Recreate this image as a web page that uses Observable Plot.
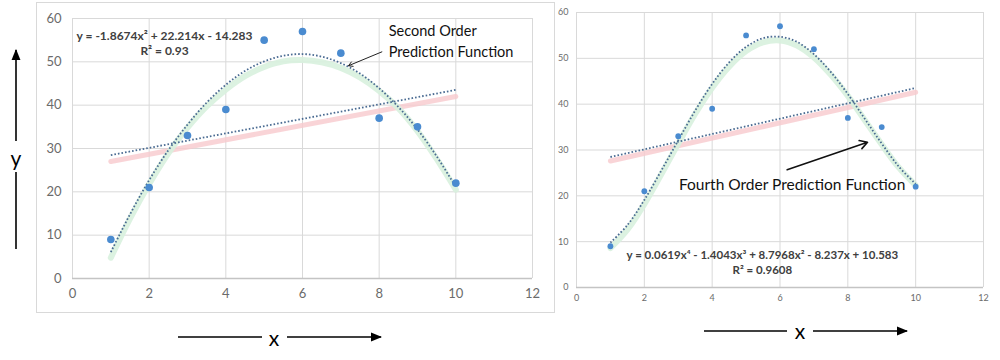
<!DOCTYPE html>
<html>
<head>
<meta charset="utf-8">
<script src="https://cdn.jsdelivr.net/npm/d3@7"></script>
<script src="https://cdn.jsdelivr.net/npm/@observablehq/plot@0.6"></script>
<style>
  body { margin: 0; background: #fff; font-family: Lato, "Open Sans", sans-serif; }
  #wrap { position: relative; width: 1000px; height: 360px; overflow: hidden; }
  #wrap > svg { position: absolute; }
  .lbl { position: absolute; font-family: Lato, sans-serif; font-size: 21px; color: #000; line-height: 1; }
</style>
</head>
<body>
<div id="wrap"></div>
<script>
// ---- data ----
const xValues = [1, 2, 3, 4, 5, 6, 7, 8, 9, 10];
const yValues = [9, 21, 33, 39, 55, 57, 52, 37, 35, 22];

const curveX = [1, 1.5, 2, 2.5, 3, 3.5, 4, 4.5, 5, 5.5, 6, 6.5, 7, 7.5, 8, 8.5, 9, 9.5, 10];
const secondOrder = [6.1, 14.8, 22.7, 29.6, 35.5, 40.6, 44.7, 47.9, 50.1, 51.4, 51.8, 51.2, 49.7, 47.3, 43.9, 39.6, 34.4, 28.2, 21.1];
const secondHighlight = [4.8, 13.8, 21.8, 28.9, 34.8, 39.7, 43.6, 46.7, 48.8, 50.1, 50.4, 49.9, 48.6, 46.4, 43.3, 39.3, 34.0, 27.6, 20.5];
const fourthOrder = [9.8, 13.6, 19.1, 25.5, 32.1, 38.6, 44.4, 49.1, 52.5, 54.4, 54.7, 53.6, 50.9, 47.0, 42.2, 36.8, 31.4, 26.4, 22.6];
const fourthHighlight = [8.6, 12.6, 18.2, 24.7, 31.4, 37.9, 43.6, 48.2, 51.6, 53.5, 53.9, 52.8, 50.2, 46.4, 41.8, 36.5, 31.2, 26.2, 22.3];

// straight highlight lines
const linearHighlightX = [1, 10];
const linearHighlightLeft = [27, 42];
const linearHighlightRight = [27.6, 42.6];

const xTicks = [0, 2, 4, 6, 8, 10, 12];
const yTicks = [0, 10, 20, 30, 40, 50, 60];

const eqSecond = "y = -1.8674x² + 22.214x - 14.283";
const r2Second = "R² = 0.93";
const eqFourth = "y = 0.0619x⁴ - 1.4043x³ + 8.7968x² - 8.237x + 10.583";
const r2Fourth = "R² = 0.9608";
const noteSecond = "Second Order\nPrediction Function";
const noteFourth = "Fourth Order Prediction Function";

// ---- helpers ----
const points = xValues.map((x, i) => ({x, y: yValues[i]}));
const zipCurve = (ys) => curveX.map((x, i) => ({x, y: ys[i]}));
const zipLin = (ys) => linearHighlightX.map((x, i) => ({x, y: ys[i]}));

const FONT = "Lato, 'Open Sans', sans-serif";
const GRID = "#d9d9d9";
const DOT_LINE = "#4a6b92";
const POINT = "#4a8bd0";

function panel(o) {
  return Plot.plot({
    width: o.width, height: o.height,
    marginLeft: o.ml, marginRight: o.mr, marginTop: o.mt, marginBottom: o.mb,
    style: {fontFamily: FONT, background: "transparent", overflow: "visible"},
    x: {domain: [0, 12], ticks: xTicks},
    y: {domain: [0, 60], ticks: yTicks},
    marks: [
      Plot.gridX(xTicks, {stroke: GRID, strokeOpacity: 1}),
      Plot.gridY(yTicks, {stroke: GRID, strokeOpacity: 1}),
      Plot.ruleY([0], {stroke: "#c4c4c4", strokeWidth: 1.3}),
      Plot.axisX({ticks: xTicks, tickSize: 0, tickPadding: o.xPad, fontSize: o.tickFont, fill: "#6b6b6b", label: null}),
      Plot.axisY({ticks: yTicks, tickSize: 0, tickPadding: o.yPad, fontSize: o.tickFont, fill: "#6b6b6b", label: null}),
      Plot.line(zipLin(o.linHi), {x: "x", y: "y", stroke: "#f8c9cd", strokeWidth: 5, strokeOpacity: 0.8}),
      Plot.line(zipCurve(o.curveHi), {x: "x", y: "y", stroke: "#d8f1de", strokeWidth: 6, strokeOpacity: 0.9, curve: "catmull-rom"}),
      Plot.linearRegressionY(points, {x: "x", y: "y", stroke: DOT_LINE, strokeWidth: 1.8, strokeDasharray: "1.6,2", strokeLinecap: "butt", ci: 0}),
      Plot.line(zipCurve(o.curve), {x: "x", y: "y", stroke: DOT_LINE, strokeWidth: 1.8, strokeDasharray: "1.6,2", strokeLinecap: "butt", curve: "catmull-rom"}),
      Plot.dot(points, {x: "x", y: "y", r: o.r, fill: POINT, stroke: "none"}),
      ...o.extra
    ]
  });
}

const wrap = document.getElementById("wrap");

// left panel
const left = panel({
  width: 517, height: 309, ml: 35, mr: 22, mt: 15, mb: 34,
  xPad: 10, yPad: 11, tickFont: 13, r: 3.8,
  curve: secondOrder, curveHi: secondHighlight, linHi: linearHighlightLeft,
  extra: [
    Plot.text([eqSecond], {x: 2.4, y: 56.0, text: d => d, fontSize: 12, fontWeight: "bold", fill: "#404040"}),
    Plot.text([r2Second], {x: 2.4, y: 52.4, text: d => d, fontSize: 12, fontWeight: "bold", fill: "#404040"}),
    Plot.text([noteSecond], {x: 8.25, y: 55.2, text: d => d, textAnchor: "start", fontSize: 14.5, fill: "#111", lineHeight: 1.45}),
    Plot.arrow([{x1: 8.07, y1: 52.3, x2: 7.2, y2: 49.1}], {x1: "x1", y1: "y1", x2: "x2", y2: "y2", stroke: "#222", strokeWidth: 1, headLength: 7})
  ]
});
left.style.left = "36px";
left.style.top = "2px";
left.style.border = "1px solid #d9d9d9";
wrap.appendChild(left);

// right panel
const right = panel({
  width: 455, height: 310, ml: 31, mr: 17, mt: 12, mb: 23,
  xPad: 7, yPad: 8, tickFont: 9, r: 2.9,
  curve: fourthOrder, curveHi: fourthHighlight, linHi: linearHighlightRight,
  extra: [
    Plot.text([eqFourth], {x: 5.48, y: 7.1, text: d => d, fontSize: 11.5, fontWeight: "bold", fill: "#404040"}),
    Plot.text([r2Fourth], {x: 5.48, y: 3.8, text: d => d, fontSize: 11.5, fontWeight: "bold", fill: "#404040"}),
    Plot.text([noteFourth], {x: 3.02, y: 22.4, text: d => d, textAnchor: "start", fontSize: 15.5, fill: "#111"}),
    Plot.arrow([{x1: 6.21, y1: 25.7, x2: 8.58, y2: 31.7}], {x1: "x1", y1: "y1", x2: "x2", y2: "y2", stroke: "#111", strokeWidth: 1.6, headLength: 8})
  ]
});
right.style.left = "545px";
right.style.top = "0px";
wrap.appendChild(right);

// axis name arrows (decoration)
const ns = "http://www.w3.org/2000/svg";
const deco = document.createElementNS(ns, "svg");
deco.setAttribute("width", 1000);
deco.setAttribute("height", 360);
deco.style.left = "0px"; deco.style.top = "0px"; deco.style.pointerEvents = "none";
deco.innerHTML = `
  <defs><marker id="ah" viewBox="0 0 10 10" refX="9" refY="5" markerWidth="7" markerHeight="7" orient="auto-start-reverse">
    <path d="M0,1 L10,5 L0,9 z" fill="#000"/></marker></defs>
  <g stroke="#000" stroke-width="1.6" fill="none">
    <line x1="16" y1="141" x2="16" y2="50" marker-end="url(#ah)"/>
    <line x1="16" y1="172" x2="16" y2="249"/>
    <line x1="178" y1="337" x2="262" y2="337"/>
    <line x1="287" y1="337" x2="381" y2="337" marker-end="url(#ah)"/>
    <line x1="704" y1="331" x2="787" y2="331"/>
    <line x1="813" y1="331" x2="907" y2="331" marker-end="url(#ah)"/>
  </g>`;
wrap.appendChild(deco);

function label(t, x, y) {
  const d = document.createElement("div");
  d.className = "lbl"; d.textContent = t;
  d.style.left = x + "px"; d.style.top = y + "px";
  d.style.transform = "translate(-50%,-50%)";
  wrap.appendChild(d);
}
label("y", 16, 157);
label("x", 274, 337);
label("x", 800, 330);
</script>
</body>
</html>
